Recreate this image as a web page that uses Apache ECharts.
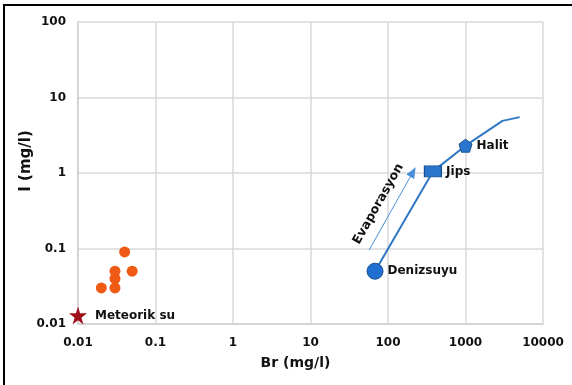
<!DOCTYPE html>
<html><head><meta charset="utf-8">
<script src="https://cdn.jsdelivr.net/npm/echarts@6/dist/echarts.min.js"></script>
<style>
html,body{margin:0;padding:0;background:#fff;}
#frame{position:absolute;left:3px;top:4px;width:569px;height:381px;border-top:2px solid #000;border-left:2px solid #000;}
#chart{position:absolute;left:0;top:0;width:572px;height:385px;}
</style></head>
<body>
<div id="frame"></div>
<div id="chart"></div>
<script>
const xTicks = [0.01, 0.1, 1, 10, 100, 1000, 10000];
const yTicks = [0.01, 0.1, 1, 10, 100];
const meteoric = [[0.01, 0.013]];
const samples = [[0.02, 0.03], [0.03, 0.03], [0.03, 0.04], [0.03, 0.05], [0.04, 0.09], [0.05, 0.05]];
const evapLine = [[68, 0.05], [380, 1.05], [1000, 2.3], [3000, 4.9], [5000, 5.5]];
const seawater = [[68, 0.05]];
const gypsum = [[380, 1.05]];
const halite = [[1000, 2.3]];
const arrow = [[57, 0.095], [210, 1.03]];

const FONT = 'DejaVu Sans';
const fmt = v => { const r = xTicks.concat(yTicks).find(t => Math.abs(Math.log10(t) - Math.log10(v)) < 1e-6); return r !== undefined ? String(r) : ''; };
const lbl = (txt, d) => ({show: true, position: 'right', distance: d, formatter: txt, color: '#111', fontWeight: 'bold', fontSize: 12, fontFamily: FONT});
const pent = 'path://M50,0 L100,38 L81,100 L19,100 L0,38 Z';

const chart = echarts.init(document.getElementById('chart'), null, {renderer: 'canvas'});
chart.setOption({
  animation: false,
  grid: {left: 78, right: 29, top: 22, bottom: 61},
  xAxis: {
    type: 'log', logBase: 10, min: 0.01, max: 10000,
    name: 'Br (mg/l)', nameLocation: 'middle', nameGap: 32, nameMoveOverlap: false,
    nameTextStyle: {fontSize: 14, fontWeight: 'bold', color: '#111', fontFamily: FONT, padding: [0, 30, 0, 0]},
    axisLine: {lineStyle: {color: '#cfcfcf', width: 1.5}},
    axisTick: {show: false},
    axisLabel: {formatter: fmt, color: '#111', fontWeight: 'bold', fontSize: 12, margin: 13, fontFamily: FONT},
    splitLine: {show: true, lineStyle: {color: '#d9d9d9', width: 1.5}},
    minorTick: {show: false}
  },
  yAxis: {
    type: 'log', logBase: 10, min: 0.01, max: 100,
    name: 'I (mg/l)', nameLocation: 'middle', nameGap: 44, nameRotate: 90, nameMoveOverlap: false,
    nameTextStyle: {fontSize: 15, fontWeight: 'bold', color: '#111', fontFamily: FONT, padding: [0, 0, 0, 24]},
    axisLine: {show: true, lineStyle: {color: '#cfcfcf', width: 1.5}},
    axisTick: {show: false},
    axisLabel: {formatter: fmt, color: '#111', fontWeight: 'bold', fontSize: 12, margin: 12, fontFamily: FONT},
    splitLine: {show: true, lineStyle: {color: '#d9d9d9', width: 1.5}}
  },
  series: [
    {type: 'line', data: evapLine, symbol: 'none', lineStyle: {color: '#2f77c3', width: 2}, z: 2},
    {type: 'line', data: arrow, symbol: 'none', lineStyle: {width: 0, opacity: 0},
      markLine: {
        silent: true, symbol: ['none', 'triangle'], symbolSize: [9, 11],
        lineStyle: {color: '#4a8fd8', width: 1, type: 'solid'},
        label: {show: true, formatter: 'Evaporasyon', position: 'insideMiddleTop', distance: 8, color: '#111', fontWeight: 'bold', fontSize: 12.5, fontFamily: FONT},
        data: [[{coord: arrow[0]}, {coord: arrow[1]}]]
      }},
    {type: 'scatter', data: samples, symbol: 'circle', symbolSize: 11, itemStyle: {color: '#ef5a14', opacity: 1}},
    {type: 'scatter', data: meteoric, symbol: 'path://M50,0 L61,35 L98,35 L68,57 L79,91 L50,70 L21,91 L32,57 L2,35 L39,35 Z', symbolSize: 18, itemStyle: {color: '#a0101a', opacity: 1}, label: lbl('Meteorik su', 8)},
    {type: 'scatter', data: seawater, symbol: 'circle', symbolSize: 16, itemStyle: {color: '#1f6fd0', borderColor: '#1a4f8f', borderWidth: 1, opacity: 1}, label: lbl('Denizsuyu', 4), z: 5},
    {type: 'scatter', data: gypsum, symbol: 'rect', symbolSize: [17, 11], itemStyle: {color: '#2a76cc', borderColor: '#1a4f8f', borderWidth: 1, opacity: 1}, label: lbl('Jips', 4), z: 5},
    {type: 'scatter', data: halite, symbol: pent, symbolSize: 13, itemStyle: {color: '#2a76cc', borderColor: '#1a4f8f', borderWidth: 1, opacity: 1}, label: lbl('Halit', 4), z: 5}
  ]
});
</script>
</body></html>
